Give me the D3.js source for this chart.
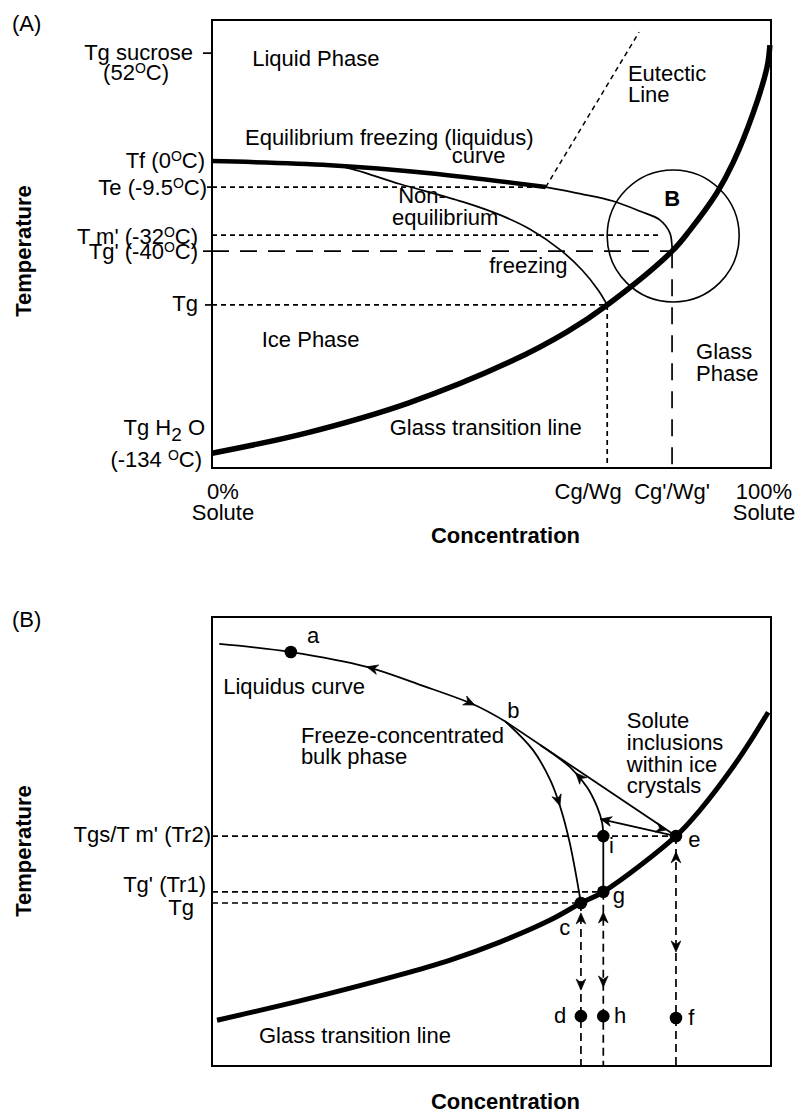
<!DOCTYPE html>
<html><head><meta charset="utf-8">
<script src="https://cdn.jsdelivr.net/npm/d3@7"></script>
<style>
body{margin:0;background:#fff}
svg text{font-family:"Liberation Sans",Arial,Helvetica,sans-serif;font-size:22px;fill:#000}
</style></head>
<body><svg id="chart" width="797" height="1115"></svg>
<script>
// ===================== DATA (schematic units: concentration 0-100 % solute, temperature level 0-100) =====================
// ---- Panel A ----
const aGlassLine = [[0,3.3],[16.8,7.8],[35.1,14.5],[53.3,23.7],[63.5,30.4],[70.7,36.4],[82.3,48.4],[85.5,53.1],[90.3,61.4],[93.2,68.1],[96.8,79.2],[99.3,89.5],[99.8,94.4]];
const aLiquidusThick = [[0,68.5],[21.1,67.6],[39.0,65.8],[59.7,62.7]];
const aLiquidusExtension = [[59.7,62.7],[66.0,61.2],[71.7,59.6],[76.6,57.3],[80.1,55.4],[81.9,52.5],[82.3,49.3],[82.3,48.4]];
const aNonEquilibrium = [[17,67.8],[22.9,67.4],[33.6,63.4],[44.9,59.4],[51.5,56.5],[56.9,53.3],[62.3,48.7],[66.2,44.2],[69.1,39.7],[70.7,36.4]];
const aEutecticLine = [[59.7,62.7],[76.4,97.3]];
const aCircleB = [82.5,51.8];
const aTempValues = [92.6, 68.5, 62.7, 52.0, 48.4, 36.4, 3.3];
const aTempText = [["Tg sucrose","(52^OC)"],["Tf (0^OC)"],["Te (-9.5^OC)"],["T m' (-32^OC)"],["Tg' (-40^OC)"],["Tg"],["Tg H_2 O","(-134 ^OC)"]];
const aConcValues = [0, 70.7, 82.3, 100];
const aConcText = [["0%","Solute"],["Cg/Wg"],["Cg'/Wg'"],["100%","Solute"]];
// reference levels drawn as dashed lines: [temperature, concentration end]
const aTe = [62.7, 59.7];
const aTm = [52.0, 80.5];
const aTgPrime = [48.4, 82.3];
const aTg = [36.4, 70.7];
const aNotes = [
  {t:"Liquid Phase", x:7.2, y:89.7},
  {t:"Equilibrium freezing (liquidus)", x:5.9, y:72.1},
  {t:"curve", x:42.9, y:68.1},
  {t:"Eutectic", x:74.4, y:86.4},
  {t:"Line", x:74.4, y:81.7},
  {t:"Non-", x:33.3, y:59.2},
  {t:"equilibrium", x:32.2, y:54.2},
  {t:"freezing", x:49.6, y:43.5},
  {t:"Ice Phase", x:8.9, y:27.0},
  {t:"Glass transition line", x:31.8, y:7.4},
  {t:"Glass", x:86.6, y:24.3},
  {t:"Phase", x:86.6, y:19.4}
];

// ---- Panel B ----
const bGlassLine = [[0.9,10.2],[15.7,14.5],[33.6,20.3],[42.6,23.6],[51.5,27.6],[60.5,32.5],[66.0,36.3],[70.0,38.8],[83.0,51.2],[87.3,57.0],[93.2,66.6],[96.8,73.3],[99.5,78.8]];
const bLiquidus = [[1.3,94.0],[14.1,92.2],[27.7,88.9],[37.2,84.9],[47.0,80.4],[52.4,76.8]];
const bBtoE = [[52.4,76.8],[83.0,51.2]];
const bBtoC = [[52.4,76.8],[57.4,70.4],[60.5,63.7],[62.3,57.7],[64.0,49.7],[66.0,36.3]];
const bItoBE = [[70.0,51.2],[69.8,54.1],[68.9,57.7],[67.1,62.1],[64.0,66.6],[58.7,71.5]];
const bEtoI = [[69.5,55.0],[83.0,51.2]];
const bPointNames = ["a","c","d","e","f","g","h","i"];
const bPointX = [14.1, 66.0, 66.0, 83.0, 83.0, 70.0, 70.0, 70.0];
const bPointY = [92.2, 36.3, 11.1, 51.2, 10.7, 38.8, 11.1, 51.2];
const bTempValues = [51.2, 38.8, 36.3];
const bTempText = ["Tgs/T m' (Tr2)", "Tg' (Tr1)", "Tg"];
// vertical drops (from point down to axis)
const bDropX = [66.0, 70.0, 83.0];
const bDropTop = [36.3, 38.8, 51.2];
// arrows on vertical drops: [x, y tip, direction]
const bDropArrows = [[66.0,34.1,"up"],[66.0,16.9,"down"],[70.0,34.3,"up"],[70.0,17.6,"down"],[83.0,47.7,"up"],[83.0,25.4,"down"]];
// arrows on curves: [curve, x, y, direction along curve]
const bCurveArrows = [["liq",27.7,88.9,-1],["liq",47.0,80.4,1],["btoc",61.7,57.7,1],["itobe",65.0,65.2,1]];
const bEtoIArrowTips = [[69.5,55.0],[81.4,52.6]];
const bNotes = [
  {t:"a", x:17.0, y:94.2},
  {t:"Liquidus curve", x:2.0, y:82.9},
  {t:"Freeze-concentrated", x:15.9, y:71.9},
  {t:"bulk phase", x:15.9, y:67.3},
  {t:"b", x:52.8, y:77.5},
  {t:"Solute", x:74.2, y:75.3},
  {t:"inclusions", x:74.2, y:70.4},
  {t:"within ice", x:74.2, y:65.5},
  {t:"crystals", x:74.2, y:60.8},
  {t:"i", x:71.0, y:47.4},
  {t:"e", x:85.2, y:48.8},
  {t:"g", x:71.7, y:36.3},
  {t:"c", x:62.1, y:29.2},
  {t:"d", x:61.2, y:9.6},
  {t:"h", x:71.9, y:9.6},
  {t:"f", x:85.2, y:9.1},
  {t:"Glass transition line", x:8.4, y:5.1}
];

// ===================== DRAWING =====================
const svg = d3.select("#chart");
const L = 212, R = 771;
const xA = d3.scaleLinear([0,100],[L,R]);
const yA = d3.scaleLinear([0,100],[468,20]);
const xB = d3.scaleLinear([0,100],[L,R]);
const yB = d3.scaleLinear([0,100],[1066,617]);

function rich(sel, str){
  const parts = str.split(/(\^[^\s]|_[^\s])/).filter(p=>p.length);
  let shift = 0;
  parts.forEach(p=>{
    const t = sel.append("tspan");
    if (p[0]==="^"){ t.attr("font-size","14px").attr("dy",-7-shift).text(p.slice(1)); shift=-7; }
    else if (p[0]==="_"){ t.attr("font-size","19px").attr("dy",6-shift).text(p.slice(1)); shift=6; }
    else { t.attr("dy",-shift).text(p); shift=0; }
  });
  return sel;
}
function txt(g, s, x, y, anchor, extra){
  const t = g.append("text").attr("x",x).attr("y",y).attr("text-anchor",anchor||"start");
  if (extra) extra(t);
  return rich(t, s);
}
function arrowHead(g, x, y, ang){
  g.append("path").attr("d","M0,0 L-11,-4.8 L-7.5,0 L-11,4.8 Z")
   .attr("transform",`translate(${x},${y}) rotate(${ang})`)
   .attr("fill","#000").attr("stroke","#000").attr("stroke-width",0.7);
}
function arrowOnPath(g, node, px, py, dir){
  const len = node.getTotalLength();
  let best=0, bd=Infinity;
  for (let l=0;l<=len;l+=0.5){const p=node.getPointAtLength(l);const d=(p.x-px)**2+(p.y-py)**2;if(d<bd){bd=d;best=l;}}
  const p=node.getPointAtLength(best), p1=node.getPointAtLength(Math.max(0,best-2)), p2=node.getPointAtLength(Math.min(len,best+2));
  let ang=Math.atan2(p2.y-p1.y,p2.x-p1.x)*180/Math.PI; if(dir<0) ang+=180;
  arrowHead(g,p.x,p.y,ang);
}
function hDash(g, xs, ys, v, xEnd, dash){
  g.append("line").attr("x1",xs(0)).attr("x2",xs(xEnd)).attr("y1",ys(v)).attr("y2",ys(v))
   .attr("stroke","#000").attr("stroke-width",1.7).attr("stroke-dasharray",dash);
}
function vDash(g, xs, ys, x, top, dash){
  g.append("line").attr("x1",xs(x)).attr("x2",xs(x)).attr("y1",ys(top)).attr("y2",ys(0))
   .attr("stroke","#000").attr("stroke-width",1.7).attr("stroke-dasharray",dash);
}

// ---------- Panel A ----------
const gA = svg.append("g");
const lineA = d3.line().x(d=>xA(d[0])).y(d=>yA(d[1])).curve(d3.curveCatmullRom.alpha(0.5));
const straightA = d3.line().x(d=>xA(d[0])).y(d=>yA(d[1]));
txt(gA,"(A)",12,31);
gA.append("rect").attr("x",L).attr("y",yA(100)).attr("width",R-L).attr("height",yA(0)-yA(100))
  .attr("fill","none").attr("stroke","#000").attr("stroke-width",2);

const shortDash = "5,4", longDash = "17,11";
hDash(gA,xA,yA,aTe[0],aTe[1],shortDash);
hDash(gA,xA,yA,aTm[0],aTm[1],shortDash);
hDash(gA,xA,yA,aTgPrime[0],aTgPrime[1],longDash);
hDash(gA,xA,yA,aTg[0],aTg[1],shortDash);
vDash(gA,xA,yA,aTg[1],aTg[0],shortDash);
vDash(gA,xA,yA,aTgPrime[1],aTgPrime[0],longDash);

gA.append("path").attr("d",straightA(aEutecticLine)).attr("fill","none").attr("stroke","#000").attr("stroke-width",1.5).attr("stroke-dasharray","5,4");
gA.append("circle").attr("cx",xA(aCircleB[0])).attr("cy",yA(aCircleB[1])).attr("r",66).attr("fill","none").attr("stroke","#000").attr("stroke-width",1.6);
gA.append("path").attr("d",lineA(aNonEquilibrium)).attr("fill","none").attr("stroke","#000").attr("stroke-width",1.7);
gA.append("path").attr("d",lineA(aLiquidusExtension)).attr("fill","none").attr("stroke","#000").attr("stroke-width",1.7);
gA.append("path").attr("d",lineA(aLiquidusThick)).attr("fill","none").attr("stroke","#000").attr("stroke-width",4.5).attr("stroke-linecap","butt");
gA.append("path").attr("d",lineA(aGlassLine)).attr("fill","none").attr("stroke","#000").attr("stroke-width",5.5);

// y labels A: tick length, and per text line [x offset of text end from frame, baseline offset]
const aLayout = [
  {tick:9, lines:[[-19,7],[-43,27]]},
  {tick:0, lines:[[-7,7]]},
  {tick:5, lines:[[-5,8]]},
  {tick:0, lines:[[-14,9]]},
  {tick:9, lines:[[-14,8]]},
  {tick:7, lines:[[-14,6]]},
  {tick:0, lines:[[-7,-18],[-10,14]]}
];
aTempValues.forEach((v,i)=>{
  const lay = aLayout[i];
  if (lay.tick) gA.append("line").attr("x1",L-lay.tick).attr("x2",L).attr("y1",yA(v)).attr("y2",yA(v)).attr("stroke","#000").attr("stroke-width",1.7);
  aTempText[i].forEach((s,j)=>txt(gA,s,L+lay.lines[j][0],yA(v)+lay.lines[j][1],"end"));
});
// x labels A
const aXNudge = [11,-19,0,-7];
aConcValues.forEach((v,i)=>{
  aConcText[i].forEach((s,j)=>txt(gA,s,xA(v)+aXNudge[i],yA(0)+31+j*21,"middle"));
});
aNotes.forEach(n=>txt(gA,n.t,xA(n.x),yA(n.y)));
txt(gA,"B",xA(aCircleB[0])-1,yA(aCircleB[1])-30,"middle",t=>t.attr("font-weight","bold"));
txt(gA,"Concentration",(L+R)/2+14,yA(0)+75,"middle",t=>t.attr("font-weight","bold"));
gA.append("text").attr("transform","translate(31,251) rotate(-90)").attr("text-anchor","middle").attr("font-weight","bold").text("Temperature");

// ---------- Panel B ----------
const gB = svg.append("g");
const lineB = d3.line().x(d=>xB(d[0])).y(d=>yB(d[1])).curve(d3.curveCatmullRom.alpha(0.5));
const straightB = d3.line().x(d=>xB(d[0])).y(d=>yB(d[1]));
txt(gB,"(B)",12,627);
gB.append("rect").attr("x",L).attr("y",yB(100)).attr("width",R-L).attr("height",yB(0)-yB(100))
  .attr("fill","none").attr("stroke","#000").attr("stroke-width",2);

const bEnds = [83.0, 70.0, 66.0];
bTempValues.forEach((v,i)=>hDash(gB,xB,yB,v,bEnds[i],"6,4"));
bDropX.forEach((x,i)=>vDash(gB,xB,yB,x,bDropTop[i],"8,5"));
bDropArrows.forEach(a=>arrowHead(gB,xB(a[0]),yB(a[1]),a[2]==="up"?-90:90));

gB.append("path").attr("d",lineB(bGlassLine)).attr("fill","none").attr("stroke","#000").attr("stroke-width",5);
const pLiq = gB.append("path").attr("d",lineB(bLiquidus)).attr("fill","none").attr("stroke","#000").attr("stroke-width",1.8);
gB.append("path").attr("d",straightB(bBtoE)).attr("fill","none").attr("stroke","#000").attr("stroke-width",1.8);
const pBtoC = gB.append("path").attr("d",lineB(bBtoC)).attr("fill","none").attr("stroke","#000").attr("stroke-width",1.8);
const pItoBE = gB.append("path").attr("d",lineB(bItoBE)).attr("fill","none").attr("stroke","#000").attr("stroke-width",1.8);
gB.append("path").attr("d",straightB(bEtoI)).attr("fill","none").attr("stroke","#000").attr("stroke-width",1.8);
// i -> g vertical
gB.append("line").attr("x1",xB(bPointX[7])).attr("x2",xB(bPointX[5])).attr("y1",yB(bPointY[7])).attr("y2",yB(bPointY[5])).attr("stroke","#000").attr("stroke-width",1.8);

const curveNodes = {liq:pLiq.node(), btoc:pBtoC.node(), itobe:pItoBE.node()};
bCurveArrows.forEach(a=>arrowOnPath(gB,curveNodes[a[0]],xB(a[1]),yB(a[2]),a[3]));
{
  const [s,e] = bEtoI;
  const ang = Math.atan2(yB(e[1])-yB(s[1]), xB(e[0])-xB(s[0]))*180/Math.PI;
  arrowHead(gB,xB(bEtoIArrowTips[0][0]),yB(bEtoIArrowTips[0][1]),ang+180);
  arrowHead(gB,xB(bEtoIArrowTips[1][0]),yB(bEtoIArrowTips[1][1]),ang);
}
bPointNames.forEach((n,i)=>gB.append("circle").attr("cx",xB(bPointX[i])).attr("cy",yB(bPointY[i])).attr("r",6.3).attr("fill","#000"));

const bLayout = [[-1,6],[-6,0],[-18,12]];
bTempValues.forEach((v,i)=>txt(gB,bTempText[i],L+bLayout[i][0],yB(v)+bLayout[i][1],"end"));
bNotes.forEach(n=>txt(gB,n.t,xB(n.x),yB(n.y)));
txt(gB,"Concentration",(L+R)/2+14,1109,"middle",t=>t.attr("font-weight","bold"));
gB.append("text").attr("transform","translate(31,851) rotate(-90)").attr("text-anchor","middle").attr("font-weight","bold").text("Temperature");
</script></body></html>
